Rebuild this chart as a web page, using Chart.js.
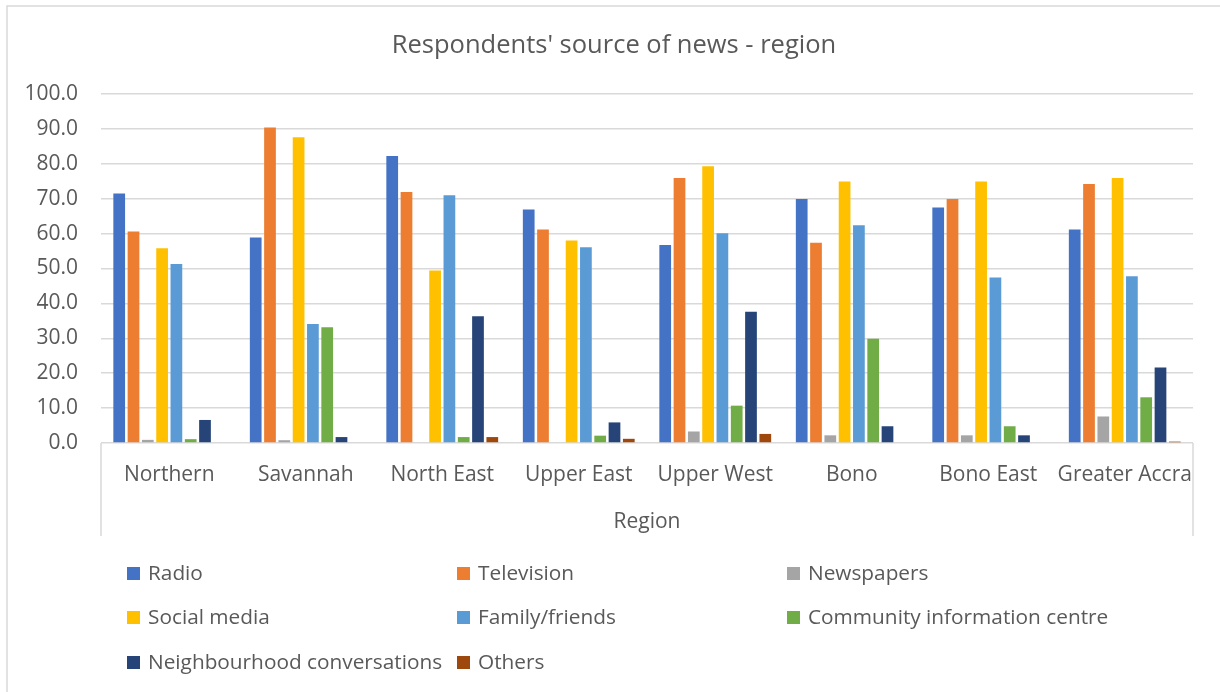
<!DOCTYPE html>
<html>
<head>
<meta charset="utf-8">
<script src="https://cdn.jsdelivr.net/npm/chart.js@4.4.1/dist/chart.umd.min.js"></script>
<style>
  html, body { margin: 0; padding: 0; background: #ffffff; }
  #wrap { position: relative; width: 1220px; height: 692px; }
</style>
</head>
<body>
<div id="wrap"><canvas id="c" width="1220" height="692"></canvas></div>
<script>
const chartTitle = "Respondents' source of news - region";
const categories = ["Northern", "Savannah", "North East", "Upper East", "Upper West", "Bono", "Bono East", "Greater Accra"];
const seriesNames = ["Radio", "Television", "Newspapers", "Social media", "Family/friends", "Community information centre", "Neighbourhood conversations", "Others"];
const radio         = [71.5, 58.9, 82.2, 66.9, 56.7, 69.9, 67.5, 61.2];
const television    = [60.6, 90.4, 71.9, 61.2, 75.9, 57.4, 69.9, 74.2];
const newspapers    = [0.9, 0.8, 0.0, 0.0, 3.3, 2.2, 2.2, 7.6];
const socialMedia   = [55.8, 87.6, 49.4, 58.0, 79.3, 74.9, 74.9, 75.9];
const familyFriends = [51.3, 34.1, 71.0, 56.1, 60.1, 62.4, 47.4, 47.8];
const communityCentre = [1.1, 33.2, 1.7, 2.1, 10.7, 29.9, 4.8, 13.1];
const neighbourhood = [6.6, 1.7, 36.3, 5.9, 37.6, 4.8, 2.2, 21.6];
const others        = [0.0, 0.0, 1.7, 1.2, 2.6, 0.0, 0.0, 0.4];
const yTicks = [0, 10, 20, 30, 40, 50, 60, 70, 80, 90, 100];
const colors = ["#4472C4", "#ED7D31", "#A5A5A5", "#FFC000", "#5B9BD5", "#70AD47", "#264478", "#9E480E"];

const seriesValues = [radio, television, newspapers, socialMedia, familyFriends, communityCentre, neighbourhood, others];
const FONT = "'Open Sans', 'Noto Sans', sans-serif";
const TEXT = "#595959";

const datasets = seriesNames.map((name, i) => ({
  label: name,
  data: seriesValues[i],
  backgroundColor: colors[i],
  borderWidth: 0,
  barPercentage: 0.82,
  categoryPercentage: 0.838
}));

const framePlugin = {
  id: 'frame',
  beforeDraw(chart) {
    const ctx = chart.ctx;
    ctx.save();
    ctx.fillStyle = '#ffffff';
    ctx.fillRect(0, 0, chart.width, chart.height);
    ctx.strokeStyle = '#d9d9d9';
    ctx.lineWidth = 1.5;
    ctx.beginPath();
    ctx.moveTo(7, 692); ctx.lineTo(7, 6); ctx.lineTo(1220, 6);
    ctx.stroke();
    ctx.restore();
  },
  afterDraw(chart) {
    const ctx = chart.ctx;
    const ca = chart.chartArea;
    const xs = chart.scales.x;
    ctx.save();
    // chart title
    ctx.fillStyle = TEXT;
    ctx.font = "25.5px " + FONT;
    ctx.textAlign = 'center';
    ctx.textBaseline = 'middle';
    ctx.fillText(chartTitle, 614, 46);
    // category axis box sides
    ctx.strokeStyle = '#d9d9d9';
    ctx.lineWidth = 1.5;
    ctx.beginPath();
    ctx.moveTo(ca.left, ca.bottom); ctx.lineTo(ca.left, xs.bottom);
    ctx.moveTo(ca.right, ca.bottom); ctx.lineTo(ca.right, xs.bottom);
    ctx.stroke();
    // legend, 3 columns
    const colX = [127, 457, 787];
    const rowY = [574, 618, 663];
    ctx.font = "20.8px " + FONT;
    ctx.textBaseline = 'middle';
    ctx.textAlign = 'left';
    chart.data.datasets.forEach((ds, i) => {
      const x = colX[i % 3];
      const y = rowY[Math.floor(i / 3)];
      ctx.fillStyle = ds.backgroundColor;
      ctx.fillRect(x, y - 7, 13, 13);
      ctx.fillStyle = TEXT;
      ctx.fillText(ds.label, x + 21, y);
    });
    ctx.restore();
  }
};

new Chart(document.getElementById('c'), {
  type: 'bar',
  data: { labels: categories, datasets: datasets },
  options: {
    responsive: false,
    animation: false,
    layout: { padding: { left: 0, right: 27, top: 94, bottom: 156 } },
    plugins: {
      legend: { display: false },
      tooltip: { enabled: false },
      title: { display: false }
    },
    scales: {
      x: {
        grid: { display: false, drawTicks: false },
        border: { display: false },
        ticks: { color: TEXT, font: { family: FONT, size: 21 }, padding: 19, maxRotation: 0, autoSkip: false },
        title: { display: true, text: 'Region', color: TEXT, font: { family: FONT, size: 21 }, padding: { top: 4, bottom: 1 } },
        afterFit(scale) { scale.height = 93; }
      },
      y: {
        min: 0, max: 100,
        afterBuildTicks(scale) { scale.ticks = yTicks.map(v => ({ value: v })); },
        grid: { color: '#d9d9d9', lineWidth: 1.5, drawTicks: false },
        border: { display: false },
        ticks: { color: TEXT, font: { family: FONT, size: 21 }, padding: 23, callback: v => Number(v).toFixed(1) },
        afterFit(scale) { scale.width = 101; }
      }
    }
  },
  plugins: [framePlugin]
});
</script>
</body>
</html>
